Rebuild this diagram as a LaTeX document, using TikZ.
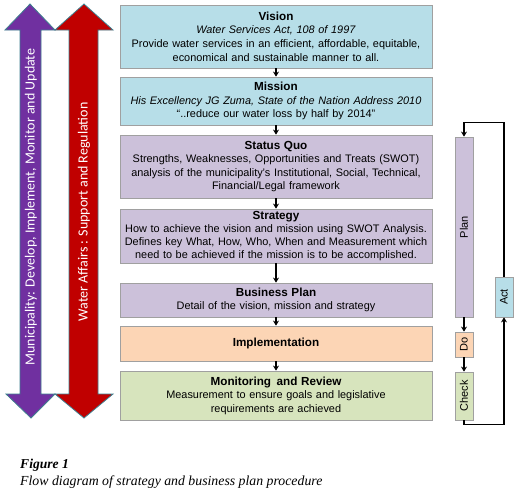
\documentclass[tikz,border=0pt]{standalone}
\usepackage{fontspec}
\setmainfont{Liberation Sans}
\newfontfamily\calfont{Carlito}
\newfontfamily\capfont{Liberation Serif}
\usetikzlibrary{arrows.meta}
\definecolor{vblue}{HTML}{B7DEE8}
\definecolor{vlav}{HTML}{CCC1DA}
\definecolor{vpeach}{HTML}{FCD5B5}
\definecolor{vgreen}{HTML}{D7E4BD}
\definecolor{apurple}{HTML}{7030A0}
\definecolor{ared}{HTML}{C00000}
\definecolor{aedge}{HTML}{3E7F8F}
\definecolor{bedge}{HTML}{A0A0A0}
\tikzset{
  mainbox/.style={draw=bedge, line width=0.8pt, minimum width=312pt, text width=312pt, align=center, inner sep=0pt,
    font=\fontsize{10.9}{13.6}\selectfont},
  pbox/.style={draw=bedge, line width=0.8pt, minimum width=18pt, inner sep=0pt, font=\fontsize{11}{12}\selectfont},
  flow/.style={-{Stealth[length=5pt,width=6pt]}, line width=1.3pt, black},
  loop/.style={-{Stealth[length=5pt,width=6pt]}, line width=1.3pt, black},
  bigarrow/.style={draw=aedge, line width=0.8pt},
  arrtext/.style={text=white, rotate=90, font=\calfont\fontsize{14}{16}\selectfont, inner sep=0pt}
}
\newcommand{\bt}[1]{{\fontsize{11.7}{13.6}\selectfont\bfseries #1}}
\begin{document}
\begin{tikzpicture}[x=1pt,y=-1pt]
\useasboundingbox[fill=white] (0,0) rectangle (523,496);
% big arrows
\filldraw[bigarrow, fill=apurple] (30,4) -- (55,30) -- (41,30) -- (41,394) -- (55,394) -- (31,418) -- (6,394) -- (20,394) -- (20,30) -- (5,30) -- cycle;
\filldraw[bigarrow, fill=ared] (84,4) -- (113,30) -- (98,30) -- (98,394) -- (113,394) -- (84,418) -- (55,394) -- (69,394) -- (69,30) -- (55,30) -- cycle;
\node[arrtext] (mun) at (31,207) {Municipality: Develop, Implement, Monitor and Update};
\node[arrtext] (wat) at (84,212) {Water Affairs : Support and Regulation};
% main boxes
\node[mainbox, fill=vblue, minimum height=63pt] (vis) at (276,36.5) {\bt{Vision}\\\textit{Water Services Act, 108 of 1997}\\Provide water services in an efficient, affordable, equitable,\\economical and sustainable manner to all.};
\node[mainbox, fill=vblue, minimum height=48pt] (mis) at (276,101) {\bt{Mission}\\\textit{His Excellency JG Zuma, State of the Nation Address 2010}\\``..reduce our water loss by half by 2014''};
\node[mainbox, fill=vlav, minimum height=63pt] (sq) at (276,166.5) {\bt{Status Quo}\\Strengths, Weaknesses, Opportunities and Treats (SWOT)\\analysis of the municipality's Institutional, Social, Technical,\\Financial/Legal framework};
\node[mainbox, fill=vlav, minimum height=54pt, font=\fontsize{10.9}{13.2}\selectfont] (str) at (276,236) {\bt{Strategy}\\How to achieve the vision and mission using SWOT Analysis.\\Defines key What, How, Who, When and Measurement which\\need to be achieved if the mission is to be accomplished.};
\node[mainbox, fill=vlav, minimum height=34pt] (bp) at (276,300) {\bt{Business Plan}\\Detail of the vision, mission and strategy};
\node[mainbox, fill=vpeach, minimum height=35pt] (imp) at (276,343.5) {\raisebox{3pt}{\bt{Implementation}}};
\node[mainbox, fill=vgreen, minimum height=49pt] (mon) at (276,395.5) {\bt{Monitoring\, and Review}\\Measurement to ensure goals and legislative\\requirements are achieved};
\draw[flow] (vis) -- (mis);
\draw[flow] (mis) -- (sq);
\draw[flow] (sq) -- (str);
\draw[flow] (str) -- (bp);
\draw[flow] (bp) -- (imp);
\draw[flow] (imp) -- (mon);
% PDCA
\node[pbox, fill=vlav, minimum height=180pt] (plan) at (464,227) {\rotatebox{90}{Plan}};
\node[pbox, fill=vpeach, minimum height=25pt] (do) at (464,344.5) {\rotatebox{90}{Do}};
\node[pbox, fill=vgreen, minimum height=48pt] (chk) at (464,396) {\rotatebox{90}{Check}};
\node[pbox, fill=vblue, minimum height=40pt] (act) at (504,297) {\rotatebox{90}{Act}};
\draw[loop] (plan) -- (do);
\draw[loop] (do) -- (chk);
\draw[loop] (chk.south) -- ++(0,4) -| (act.south);
\draw[loop] (act.north) -- ++(0,-154) -| (plan.north);
% caption
\node[anchor=base west, inner sep=0pt, font=\capfont\bfseries\itshape\fontsize{13.6}{15}\selectfont] (fig) at (20,468) {Figure 1};
\node[anchor=base west, inner sep=0pt, font=\capfont\itshape\fontsize{13.8}{15}\selectfont] (cap) at (20,485) {Flow diagram of strategy and business plan procedure};
\end{tikzpicture}
\end{document}
